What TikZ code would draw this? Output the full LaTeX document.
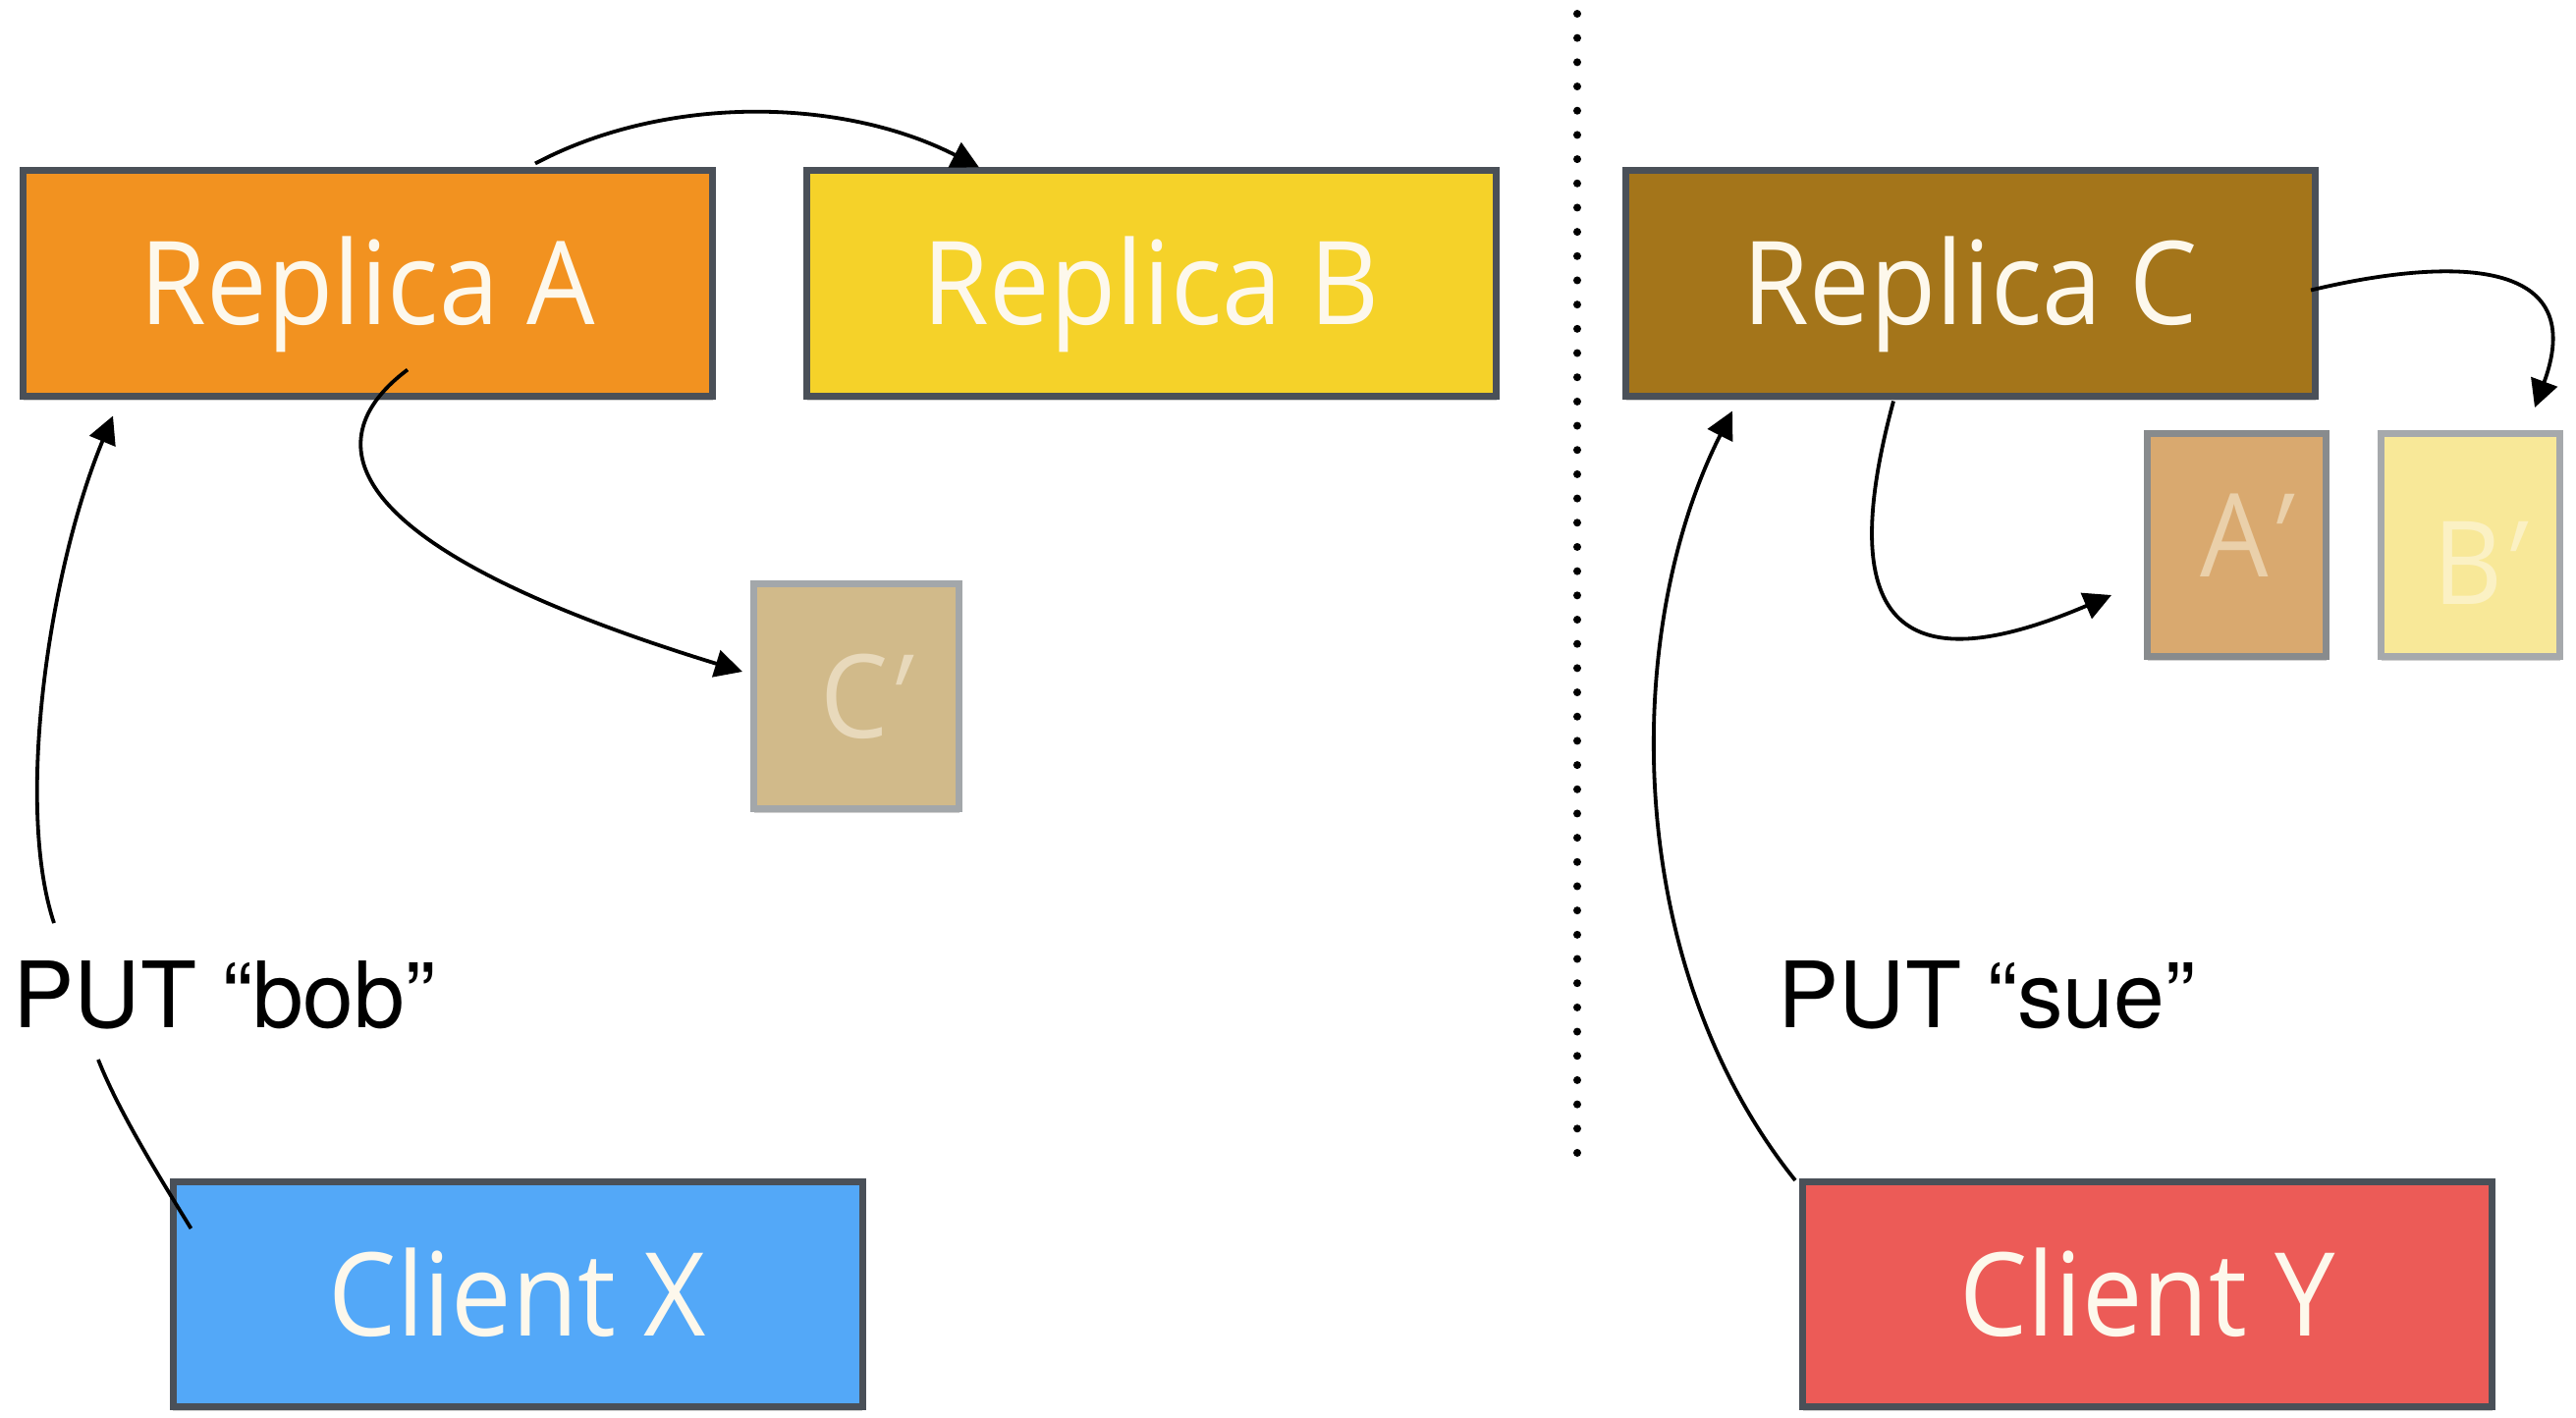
\documentclass[tikz,border=0pt]{standalone}
\usepackage{fontspec}
\newfontfamily\boxfont[FakeStretch=0.93]{Open Sans}
\newfontfamily\cmdfont{TeX Gyre Heros}
\usetikzlibrary{arrows.meta,shadows}

\definecolor{edgegray}{HTML}{4A5058}
\definecolor{cream}{HTML}{FDF8EC}
\definecolor{orangeA}{HTML}{F29220}
\definecolor{yellowB}{HTML}{F5D229}
\definecolor{brownC}{HTML}{A4751A}
\definecolor{blueX}{HTML}{53A8F8}
\definecolor{redY}{HTML}{EC5B57}
\definecolor{cpFill}{HTML}{D1BA8A}
\definecolor{cpEdge}{HTML}{A3A7AA}
\definecolor{cpText}{HTML}{E8D9BB}
\definecolor{apFill}{HTML}{D9A96F}
\definecolor{apEdge}{HTML}{888B8D}
\definecolor{apText}{HTML}{EAD0AA}
\definecolor{bpFill}{HTML}{F8E898}
\definecolor{bpEdge}{HTML}{A6A9AC}
\definecolor{bpText}{HTML}{FBF1C4}

% slanted prime mark for the stale copies
\newcommand{\slprime}{\kern-0.17em{\addfontfeature{FakeSlant=0.35}′}}

\begin{document}
\begin{tikzpicture}[x=0.25pt, y=-0.25pt,
  box/.style={draw=edgegray, line width=1.75pt, inner sep=0pt,
    minimum width=175.5pt, minimum height=57.25pt,
    text=cream, text height=21pt, text depth=0pt,
    font=\boxfont\fontsize{29.5pt}{30pt}\selectfont,
    drop shadow={shadow xshift=0pt, shadow yshift=-1.2pt, opacity=0.18, fill=black}},
  copybox/.style={box, minimum width=#1},
  cmd/.style={inner sep=0pt, anchor=base west, text=black,
    font=\cmdfont\fontsize{23.3pt}{24pt}\selectfont},
  link/.style={line width=0.95pt, -{Triangle[length=7pt,width=7pt]}},
  plain/.style={line width=0.95pt},
  divider/.style={line width=2pt, line cap=round, dash pattern=on 0pt off 6.17pt}
]
\useasboundingbox (0,0) rectangle (2623,1444);

% replicas
\node[box, fill=orangeA] (repA) at (374.5,288.5) {Replica A};
\node[box, fill=yellowB] (repB) at (1172.5,288.5) {Replica B};
\node[box, fill=brownC]  (repC) at (2006.5,288.5) {Replica C};

% stale copies
\node[copybox=52.25pt, fill=cpFill, draw=cpEdge, text=cpText] (cp) at (872,709) {C\slprime};
\node[copybox=45.5pt, minimum height=56.75pt, fill=apFill, draw=apEdge, text=apText] (ap) at (2277.5,555) {\raisebox{2.5pt}{A\slprime}};
\node[copybox=45.5pt, minimum height=56.75pt, fill=bpFill, draw=bpEdge, text=bpText] (bp) at (2515.5,555) {\raisebox{-4.5pt}{B\slprime}};

% clients
\node[box, fill=blueX] (cliX) at (527,1318) {Client X};
\node[box, fill=redY]  (cliY) at (2186.5,1318) {Client Y};

% requests
\node[cmd] (bob) at (13,1046) {PUT “bob”};
\node[cmd] (sue) at (1810,1046) {PUT “sue”};

% partition line
\coordinate (divTop) at (1606,14);
\coordinate (divBot) at (1606,1174);
\draw[divider] (divTop) -- (divBot);

% replication and write paths
\draw[link] ([shift={(525,-4)}]repA.north west)
  .. controls (680,95) and (860,100) .. ([shift={(179,0)}]repB.north west);
\draw[link] ([shift={(395,-30)}]repA.south west)
  .. controls (326,443) and (326,552) .. ([shift={(-8,93)}]cp.north west);
\draw[plain] ([shift={(22,51)}]cliX.north west)
  .. controls (160,1195) and (120,1130) .. ([shift={(87,33)}]bob.base west);
\draw[link] ([shift={(42,-106)}]bob.base west)
  .. controls (15,820) and (50,580) .. ([shift={(95,17)}]repA.south west);
\draw[link] ([shift={(-4,2)}]cliY.north west)
  .. controls (1650,980) and (1652,640) .. ([shift={(112,12)}]repC.south west);
\draw[link] ([shift={(276,2)}]repC.south west)
  .. controls (1868,630) and (1930,700) .. ([shift={(-33,168)}]ap.north west);
\draw[link] ([shift={(-8,125)}]repC.north east)
  .. controls (2480,265) and (2640,255) .. ([shift={(160,-23)}]bp.north west);
\end{tikzpicture}
\end{document}
